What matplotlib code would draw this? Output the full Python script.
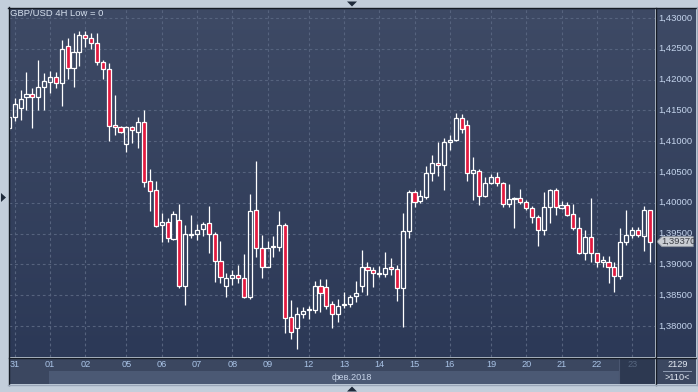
import numpy as np
import matplotlib
matplotlib.use("Agg")
import matplotlib.pyplot as plt
from matplotlib.colors import LinearSegmentedColormap
from matplotlib.patches import Polygon, Rectangle
from matplotlib.lines import Line2D

plt.rcParams['font.family'] = ['Liberation Sans', 'DejaVu Sans']

# GBP/USD 4H, 31.01 - 23.02.2018, 110 bars
opens = [1.4121, 1.4139, 1.4154, 1.4172, 1.4177, 1.4172, 1.4188, 1.4196, 1.4204, 1.4194,
         1.4255, 1.4219, 1.4245, 1.4272, 1.4268, 1.4259, 1.4229, 1.4217, 1.4126, 1.4123,
         1.4095, 1.4123, 1.4115, 1.4131, 1.4035, 1.4021, 1.3964, 1.3969, 1.3941, 1.3972,
         1.3865, 1.3948, 1.3949, 1.3957, 1.3967, 1.3949, 1.3906, 1.3865, 1.3878, 1.3883,
         1.3878, 1.3847, 1.3988, 1.3927, 1.3896, 1.3928, 1.3929, 1.3964, 1.3815, 1.3797,
         1.3819, 1.3826, 1.3826, 1.3865, 1.3863, 1.3836, 1.3819, 1.3834, 1.3836, 1.3849,
         1.3865, 1.3896, 1.3891, 1.3884, 1.3884, 1.3896, 1.3893, 1.3862, 1.3954, 1.4018,
         1.4003, 1.4009, 1.4048, 1.4065, 1.4061, 1.4099, 1.4102, 1.4138, 1.4126, 1.4048,
         1.4052, 1.4011, 1.4032, 1.4042, 1.4032, 1.3998, 1.4006, 1.4008, 1.4001, 1.3992,
         1.3977, 1.3956, 1.3993, 1.4021, 1.3992, 1.3996, 1.3982, 1.3959, 1.3918, 1.3944,
         1.3918, 1.3904, 1.3904, 1.3896, 1.3881, 1.3936, 1.3948, 1.3956, 1.3946, 1.3988]
highs = [1.4147, 1.4170, 1.4183, 1.4212, 1.4186, 1.4232, 1.4211, 1.4214, 1.4212, 1.4264,
         1.4268, 1.4276, 1.4279, 1.4279, 1.4276, 1.4276, 1.4232, 1.4227, 1.4175, 1.4125,
         1.4124, 1.4125, 1.4139, 1.4151, 1.4055, 1.4035, 1.3983, 1.3975, 1.3987, 1.3998,
         1.3964, 1.3980, 1.3966, 1.3969, 1.3995, 1.3953, 1.3938, 1.3886, 1.3891, 1.3899,
         1.3917, 1.4014, 1.4068, 1.3948, 1.3938, 1.3946, 1.3987, 1.3967, 1.3842, 1.3831,
         1.3831, 1.3832, 1.3873, 1.3876, 1.3876, 1.3841, 1.3844, 1.3855, 1.3850, 1.3873,
         1.3923, 1.3904, 1.3896, 1.3897, 1.3920, 1.3910, 1.3899, 1.3983, 1.4021, 1.4021,
         1.4021, 1.4060, 1.4078, 1.4099, 1.4105, 1.4110, 1.4146, 1.4144, 1.4134, 1.4074,
         1.4055, 1.4042, 1.4047, 1.4050, 1.4033, 1.4031, 1.4009, 1.4022, 1.4005, 1.3995,
         1.3980, 1.4018, 1.4022, 1.4024, 1.4003, 1.4002, 1.3998, 1.3977, 1.3956, 1.4008,
         1.3919, 1.3914, 1.3914, 1.3904, 1.3959, 1.3988, 1.3961, 1.3961, 1.3995, 1.3989]
lows = [1.4118, 1.4133, 1.4134, 1.4151, 1.4121, 1.4151, 1.4151, 1.4178, 1.4186, 1.4157,
        1.4201, 1.4188, 1.4222, 1.4253, 1.4250, 1.4224, 1.4201, 1.4100, 1.4110, 1.4113,
        1.4082, 1.4097, 1.4089, 1.4026, 1.3987, 1.3961, 1.3936, 1.3936, 1.3940, 1.3862,
        1.3834, 1.3943, 1.3940, 1.3946, 1.3918, 1.3871, 1.3870, 1.3847, 1.3867, 1.3870,
        1.3845, 1.3844, 1.3912, 1.3878, 1.3895, 1.3912, 1.3922, 1.3789, 1.3779, 1.3763,
        1.3813, 1.3811, 1.3821, 1.3823, 1.3828, 1.3797, 1.3807, 1.3829, 1.3831, 1.3839,
        1.3855, 1.3850, 1.3863, 1.3880, 1.3880, 1.3883, 1.3841, 1.3798, 1.3943, 1.3993,
        1.4000, 1.4006, 1.4035, 1.4044, 1.4021, 1.4086, 1.4100, 1.4113, 1.4035, 1.4005,
        1.3996, 1.4009, 1.4031, 1.4027, 1.3993, 1.3993, 1.3959, 1.3998, 1.3988, 1.3967,
        1.3930, 1.3948, 1.3967, 1.3980, 1.3990, 1.3979, 1.3956, 1.3917, 1.3907, 1.3904,
        1.3896, 1.3896, 1.3870, 1.3855, 1.3876, 1.3931, 1.3943, 1.3944, 1.3922, 1.3904]
closes = [1.4139, 1.4160, 1.4169, 1.4177, 1.4172, 1.4188, 1.4198, 1.4204, 1.4194, 1.4250,
          1.4219, 1.4245, 1.4272, 1.4268, 1.4259, 1.4229, 1.4217, 1.4125, 1.4123, 1.4115,
          1.4123, 1.4118, 1.4131, 1.4034, 1.4019, 1.3962, 1.3969, 1.3943, 1.3982, 1.3865,
          1.3949, 1.3950, 1.3956, 1.3966, 1.3949, 1.3906, 1.3880, 1.3878, 1.3883, 1.3878,
          1.3847, 1.3987, 1.3927, 1.3896, 1.3927, 1.3930, 1.3964, 1.3813, 1.3790, 1.3819,
          1.3824, 1.3828, 1.3865, 1.3854, 1.3832, 1.3819, 1.3832, 1.3836, 1.3847, 1.3854,
          1.3896, 1.3891, 1.3886, 1.3886, 1.3894, 1.3893, 1.3862, 1.3954, 1.4018, 1.4001,
          1.4011, 1.4048, 1.4065, 1.4061, 1.4099, 1.4102, 1.4138, 1.4120, 1.4048, 1.4053,
          1.4011, 1.4032, 1.4042, 1.4032, 1.3998, 1.4006, 1.4008, 1.4001, 1.3992, 1.3977,
          1.3956, 1.3993, 1.4021, 1.3993, 1.3996, 1.3980, 1.3959, 1.3918, 1.3944, 1.3918,
          1.3904, 1.3907, 1.3896, 1.3881, 1.3936, 1.3948, 1.3956, 1.3948, 1.3988, 1.3937]

# first bar of each trading day and its label
day_idx = [1, 7, 13, 20, 26, 32, 38, 44, 51, 57, 63, 69, 75, 82, 88, 94, 100, 106]
day_labels = ['31', '01', '02', '05', '06', '07', '08', '09', '12', '13',
              '14', '15', '16', '19', '20', '21', '22', '23']
month_label = 'фев.2018'
price_ticks = [1.380, 1.385, 1.390, 1.395, 1.400, 1.405, 1.410, 1.415, 1.420, 1.425, 1.430]

W, H = 698, 392
YLIM = (1.37497, 1.43162)
XLIM = (0.03, 109.9)
grid_c = '#56637e'
label_c = '#c4d4ec'


def box(x0, y0, x1, y1):
    # pixel box with top-left origin -> figure rect
    return [x0 / W, 1 - y1 / H, (x1 - x0) / W, (y1 - y0) / H]


def gradient(a, top, bottom):
    cmap = LinearSegmentedColormap.from_list('bg', [top, bottom])
    a.imshow(np.linspace(0, 1, 200).reshape(-1, 1), cmap=cmap, aspect='auto',
             extent=(0, 1, 0, 1), transform=a.transAxes, zorder=0)


fig = plt.figure(figsize=(W / 100, H / 100), dpi=100, facecolor='#c3cedb')

# main chart
ax = fig.add_axes(box(9, 8, 655, 357))
gradient(ax, '#3e4a65', '#2c3957')
ax.set_xlim(*XLIM)
ax.set_ylim(*YLIM)
ax.set_axis_off()

for p in price_ticks:
    ax.axhline(p, color=grid_c, lw=0.8, ls=(0, (2.5, 2.5)), zorder=1)
for d in day_idx:
    ax.axvline(d, color=grid_c, lw=0.8, ls=(0, (2.5, 2.5)), zorder=1)

x = np.arange(len(opens))
o, h, l, c = map(np.array, (opens, highs, lows, closes))
up = c >= o
top = np.maximum(o, c)
bot = np.minimum(o, c)
body = np.maximum(top - bot, 0.00012)
ax.vlines(x, top, h, color='white', lw=0.9, zorder=3)
ax.vlines(x, l, bot, color='white', lw=0.9, zorder=3)
ax.bar(x[up], body[up], bottom=bot[up], width=0.7, facecolor='none',
       edgecolor='white', linewidth=0.9, zorder=4)
ax.bar(x[~up], body[~up], bottom=bot[~up], width=0.7, facecolor='#e31a3f',
       edgecolor='white', linewidth=0.9, zorder=4)

ax.text(0.0015, 0.983, 'GBP/USD 4H Low = 0', transform=ax.transAxes, color='#d6e0ee',
        fontsize=6.8, va='center', ha='left', zorder=5)

# price scale on the right
axr = fig.add_axes(box(656, 8, 696, 357))
gradient(axr, '#3e4a65', '#2c3957')
axr.set_xlim(0, 1)
axr.set_ylim(*YLIM)
axr.set_axis_off()
for p in price_ticks:
    axr.text(0.06, p, f'{p:.5f}'.replace('.', ','), color=label_c, fontsize=6.8,
             va='center', ha='left')

last = closes[-1]
hh = 0.00082
tag = Polygon([(0.02, last), (0.15, last + hh), (0.93, last + hh), (0.93, last - hh),
               (0.15, last - hh)], closed=True, facecolor='#c9cdd3', edgecolor='#8f96a0',
              lw=0.6, zorder=5)
axr.add_patch(tag)
axr.text(0.55, last, f'{last:.5f}'.replace('.', ','), color='#3a3d44', fontsize=6.8,
         va='center', ha='center', zorder=6)

# date band below the chart
axb = fig.add_axes(box(9, 358, 655, 384))
axb.set_xlim(*XLIM)
axb.set_ylim(0, 1)
axb.set_axis_off()
axb.add_patch(Rectangle((0, 0), 1, 1, transform=axb.transAxes, facecolor='#3b4760', zorder=0))
axb.add_patch(Rectangle((0.062, 0), 0.938, 0.5, transform=axb.transAxes, facecolor='#4b5974', zorder=1))
axb.add_patch(Rectangle((0.944, 0), 0.056, 1, transform=axb.transAxes, facecolor='#2d3951',
                        edgecolor='#4a5670', lw=0.8, zorder=2))
for d, lab in zip(day_idx, day_labels):
    col = '#56667f' if lab == day_labels[-1] else '#a9c3e6'
    axb.text(d, 0.76, lab, color=col, fontsize=6.6, ha='center', va='center', zorder=3)
axb.text(0.531, 0.25, month_label, transform=axb.transAxes, color='#c6d3e8',
         fontsize=6.6, ha='center', va='center', zorder=3)

# corner box
axc = fig.add_axes(box(656, 358, 696, 384))
axc.set_xlim(0, 1)
axc.set_ylim(0, 1)
axc.set_axis_off()
axc.add_patch(Rectangle((0, 0), 1, 1, facecolor='#3b4760', zorder=0))
axc.text(0.55, 0.76, '2129', color='#e4eaf4', fontsize=6.6, ha='center', va='center')
axc.plot([0.18, 0.88], [0.5, 0.5], color='#8e9bb2', lw=0.7)
axc.text(0.52, 0.25, f'>{len(opens)}<', color='#e4eaf4', fontsize=6.6, ha='center', va='center')

# frame lines
def hline(py, x0, x1, col='#161c26', lw=1.0):
    fig.add_artist(Line2D([x0 / W, x1 / W], [1 - py / H, 1 - py / H], color=col, lw=lw))


def vline(px, y0, y1, col='#161c26', lw=1.0):
    fig.add_artist(Line2D([px / W, px / W], [1 - y0 / H, 1 - y1 / H], color=col, lw=lw))


hline(7.5, 8, 697)
vline(8.5, 7, 385)
hline(357.5, 9, 697)
vline(655.5, 8, 385)
hline(384.5, 8, 697, col='#9aa6b8')
vline(696.5, 7, 385, col='#9aa6b8')

# small scroll markers in the frame
def tri(pts):
    fig.add_artist(Polygon([(px / W, 1 - py / H) for px, py in pts], closed=True,
                           facecolor='#1f2a3b', edgecolor='none'))


tri([(347, 1.5), (357, 1.5), (352, 6.5)])
tri([(347, 391.5), (357, 391.5), (352, 386.5)])
tri([(1, 193), (1, 202), (6, 197.5)])

fig.savefig('out.png', dpi=100, facecolor=fig.get_facecolor())
